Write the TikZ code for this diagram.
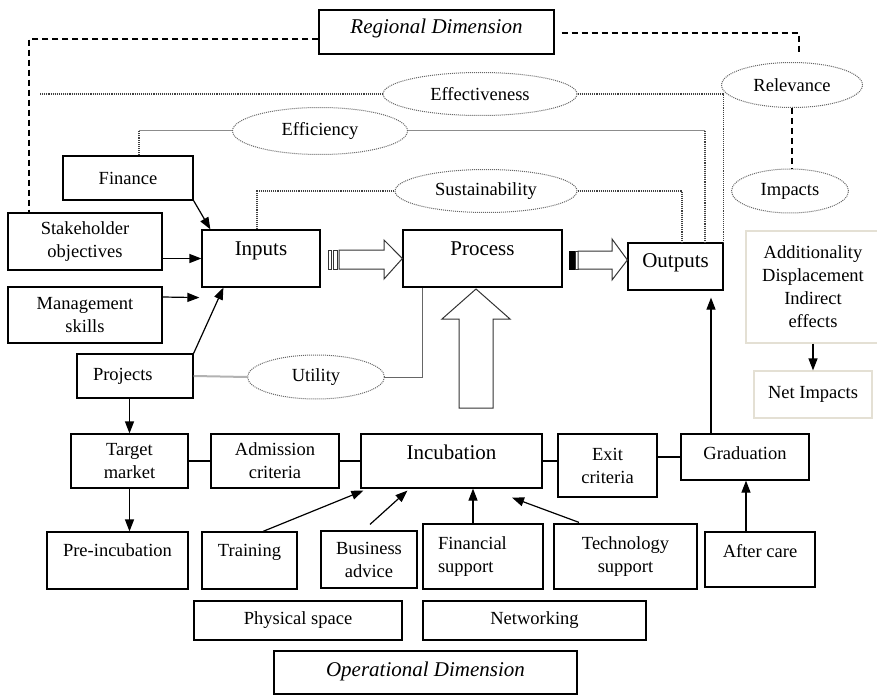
\documentclass[tikz,border=0pt]{standalone}
\usepackage{fontspec}
\setmainfont{Liberation Serif}
\usetikzlibrary{shapes.geometric,arrows.meta,calc}
\definecolor{paleline}{RGB}{228,224,212}

\begin{document}
\begin{tikzpicture}[x=1pt, y=-1pt,
	every node/.style={font=\fontsize{18.5}{23}\selectfont},
	box/.style={draw, line width=1.2pt, inner sep=0pt, align=center},
	big/.style={font=\fontsize{21}{25}\selectfont},
	ital/.style={font=\fontsize{21}{25}\selectfont\itshape},
	lift/.style={text height=13pt, text depth=#1},
	oval/.style={ellipse, draw=black!60, densely dotted, line width=1pt, inner sep=0pt},
	pale/.style={draw=paleline, line width=1.2pt, inner sep=0pt, align=center},
	arr/.style={-{Triangle[length=12pt,width=9pt]}, line width=1.2pt},
	link/.style={line width=1.2pt},
	dotline/.style={densely dotted, line width=1.1pt, black!75},
	dashline/.style={dash pattern=on 6pt off 4pt, line width=1.2pt},
	greyline/.style={line width=1pt, black!45},
	fat/.style={line width=1pt, draw=black!80, fill=white}]
	
	\useasboundingbox (0,0) rectangle (877,695);
	
	\node[box, ital, lift=9pt, minimum width=235pt, minimum height=44pt] (reg) at (436.5,32) {Regional Dimension};
	\node[box, ital, lift=5pt, minimum width=303pt, minimum height=43pt] (oper) at (425.5,672.5) {Operational Dimension};
	
	\node[oval, minimum width=194pt, minimum height=43pt] (effect) at (480,94) {Effectiveness};
	\node[oval, minimum width=175pt, minimum height=47pt] (effic) at (320,131) {Efficiency};
	\node[oval, minimum width=182pt, minimum height=43pt] (sus) at (486,191) {Sustainability};
	\node[oval, minimum width=141pt, minimum height=45pt] (rel) at (792,85) {Relevance};
	\node[oval, minimum width=117pt, minimum height=44pt] (imp) at (790,191) {Impacts};
	\node[oval, minimum width=137pt, minimum height=44pt] (util) at (316,377) {Utility};
	
	\node[box, minimum width=130pt, minimum height=44pt] (fin) at (128,178) {Finance};
	\node[box, minimum width=154pt, minimum height=57pt] (stake) at (85,241.5) {Stakeholder\\objectives};
	\node[box, minimum width=154pt, minimum height=56pt] (mgmt) at (85,315) {Management\\skills};
	\node[box, minimum width=116pt, minimum height=44pt, text width=84pt, align=left] (proj) at (135,376) {Projects};
	\node[box, big, lift=19pt, minimum width=118pt, minimum height=57pt] (inp) at (261,258.5) {Inputs};
	\node[box, big, lift=19pt, minimum width=159pt, minimum height=57pt] (proc) at (482.5,258.5) {Process};
	\node[box, big, lift=11pt, minimum width=95pt, minimum height=47pt] (out) at (675.5,266.5) {Outputs};
	
	\node[pale, minimum width=134pt, minimum height=112pt] (addl) at (813,287) {Additionality\\Displacement\\Indirect\\effects};
	\node[pale, minimum width=118pt, minimum height=47pt] (net) at (813,394.5) {Net Impacts};
	
	\node[box, minimum width=117pt, minimum height=54pt] (tgt) at (129.5,461) {Target\\market};
	\node[box, minimum width=128pt, minimum height=54pt] (adm) at (275,461) {Admission\\criteria};
	\node[box, big, lift=17pt, minimum width=181pt, minimum height=54pt] (inc) at (451.5,461) {Incubation};
	\node[box, minimum width=99pt, minimum height=63pt] (exit) at (607.5,465.5) {Exit\\criteria};
	\node[box, lift=9pt, minimum width=128pt, minimum height=46pt] (grad) at (745,457) {Graduation};
	
	\node[box, lift=21pt, minimum width=141pt, minimum height=57pt] (pre) at (117.5,560.5) {Pre-incubation};
	\node[box, lift=21pt, minimum width=95pt, minimum height=57pt] (train) at (249.5,560.5) {Training};
	\node[box, minimum width=96pt, minimum height=57pt] (bus) at (369,559.5) {Business\\advice};
	\node[box, minimum width=120pt, minimum height=65pt, text width=90pt, align=left] (fsup) at (483,556.5) {Financial\\support};
	\node[box, minimum width=143pt, minimum height=65pt] (tech) at (625.5,556.5) {Technology\\support};
	\node[box, lift=18pt, minimum width=110pt, minimum height=55pt] (aft) at (760,559.5) {After care};
	\node[box, minimum width=208pt, minimum height=39pt] (phys) at (298,620.5) {Physical space};
	\node[box, minimum width=223pt, minimum height=39pt] (netw) at (534.5,620.5) {Networking};
	
	\draw[dashline] ($(reg.west)+(0,7)$) -| ($(stake.north)+(-56,0)$);
	\draw[dashline] ($(reg.east)+(7,1)$) -| ($(rel.north)+(7,-9)$);
	\draw[dashline] (rel.south) -- (rel.south |- imp.north);
	
	\coordinate (effstart) at (40,94);
	\draw[dotline] (effstart) -- (effect.west);
	\draw[dotline] (effect.east) -| (out.north east);
	
	\draw[dotline] ($(fin.north)+(11,0)$) coordinate (efb) -- (efb |- effic.west);
	\draw[greyline] (efb |- effic.west) -- (effic.west);
	\coordinate (efr) at ($(out.north)+(29.5,0)$);
	\draw[greyline] (effic.east) -- (efr |- effic.east);
	\draw[dotline] (efr |- effic.east) -- (efr);
	
	\draw[dotline] ($(inp.north)+(-4,0)$) |- (sus.west);
	\draw[dotline] (sus.east) -| ($(out.north)+(6.5,0)$);
	
	\draw[line width=2pt, black!30] (proj.east) -- (util.west);
	\draw[line width=1pt, black!60] (util.east) -| ($(proc.south west)+(20,0)$);
	
	\draw[fat] (328,250) rectangle (331,269);
	\draw[fat] (333,250) rectangle (337,269);
	\draw[fat] (339,250) -- (384,250) -- (384,240) -- (proc.west) -- (384,279) -- (384,269) -- (339,269) -- cycle;
	\draw[line width=1pt, fill=black] (569,251) rectangle (574,269);
	\draw[fat] (575,251) rectangle (578,269);
	\draw[fat] (578,251) -- (612,251) -- (612,239) -- (out.west |- 0,260) -- (612,280) -- (612,269) -- (578,269) -- cycle;
	\draw[fat] (459,408) -- (459,319) -- (442,319) -- (476,289) -- (510,319) -- (493,319) -- (493,408) -- cycle;
	
	\draw[arr] (fin.south east) -- ($(inp.north west)+(9,0)$);
	\draw[arr] (stake.east |- inp.west) -- (inp.west);
	\draw[arr] ($(mgmt.east)+(0,-18)$) -- ($(inp.south west)+(-2,10)$);
	\draw[arr] (proj.north east) -- ($(inp.south west)+(22,0)$);
	\draw[arr] (tgt.north |- proj.south) -- (tgt.north);
	\draw[arr] (tgt.south) -- (tgt.south |- pre.north);
	\draw[arr] (net.north |- addl.south) -- (net.north);
	
	\draw[link] (tgt.east) -- (adm.west);
	\draw[link] (adm.east) -- (inc.west);
	\draw[link] (inc.east) -- (inc.east -| exit.west);
	\draw[link] (exit.west |- grad.west) ++(99,0) -- (grad.west);
	
	\coordinate (gup) at ($(out.south)+(35.5,7)$);
	\draw[arr] (gup |- grad.north) -- (gup);
	\coordinate (aup) at ($(aft.north)+(-14,0)$);
	\draw[arr] (aup) -- (aup |- grad.south);
	
	\draw[arr] ($(train.north)+(13.5,0)$) -- ($(inc.south west)+(3,2)$);
	\draw[arr] ($(bus.north)+(1,-6)$) -- ($(inc.south west)+(47,2)$);
	\coordinate (fup) at ($(fsup.north)+(-10,0)$);
	\draw[arr] (fup) -- (fup |- inc.south);
	\draw[arr] ($(tech.north)+(-46.5,-1)$) -- ($(inc.south)+(60.5,9)$);
\end{tikzpicture}
\end{document}
